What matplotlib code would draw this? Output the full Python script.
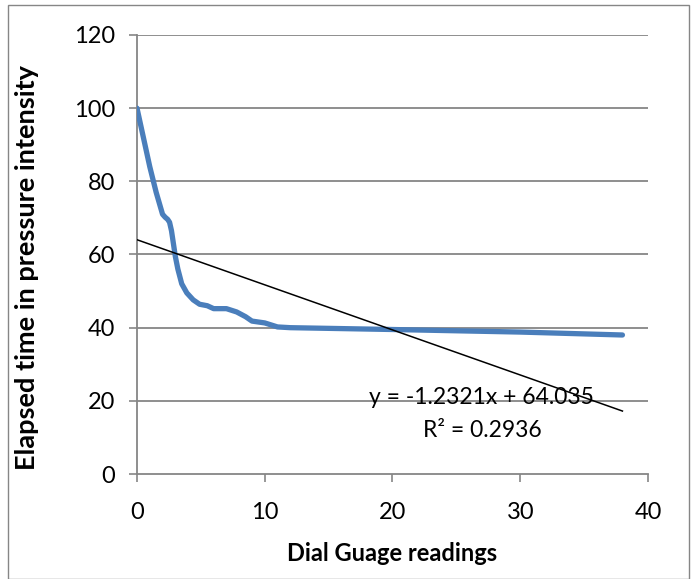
import numpy as np
from matplotlib import pyplot as plt
from matplotlib.patches import Rectangle

plt.rcParams['font.family'] = ['Lato', 'DejaVu Sans']

# values
dial = [0, 0.5, 1, 1.5, 2, 2.2, 2.4, 2.55, 2.7, 2.85, 3, 3.2, 3.5, 3.9, 4.4, 4.9, 5.5, 6, 7, 7.8, 8.5, 9, 10, 11, 12, 20, 30, 38]
elapsed = [100, 92, 84, 77, 71, 70.2, 69.6, 68.8, 66.5, 63, 59.5, 56, 52, 49.5, 47.6, 46.4, 46, 45.2, 45.2, 44.3, 43, 41.8, 41.3, 40.2, 40, 39.5, 38.8, 38]

slope = -1.2321
intercept = 64.035
r2 = 0.2936
x_ticks = [0, 10, 20, 30, 40]
y_ticks = [0, 20, 40, 60, 80, 100, 120]

fig = plt.figure(figsize=(6.94, 5.79), dpi=100)
ax = fig.add_axes([0.1974, 0.1813, 0.7363, 0.7583])

for t in y_ticks[1:]:
    ax.axhline(t, color='#868686', linewidth=1.3, zorder=1)

ax.plot(dial, elapsed, color='#4A7EBB', linewidth=3.8, solid_capstyle='round',
        solid_joinstyle='round', zorder=3)

fit_x = np.array([0, 38])
ax.plot(fit_x, slope * fit_x + intercept, color='black', linewidth=1.1, zorder=4)

ax.text(27, 20.8, 'y = -1.2321x + 64.035', ha='center', va='center', fontsize=16.5, zorder=5)
ax.text(27, 12.0, 'R² = 0.2936', ha='center', va='center', fontsize=16.5, zorder=5)

ax.set_xlim(0, 40)
ax.set_ylim(0, 120)
ax.set_xticks(x_ticks)
ax.set_yticks(y_ticks)
ax.tick_params(axis='both', direction='out', length=6, width=1.2, color='#868686',
               labelsize=17)
ax.tick_params(axis='x', pad=14)
ax.tick_params(axis='y', pad=10)
for s in ['top', 'right']:
    ax.spines[s].set_visible(False)
for s in ['left', 'bottom']:
    ax.spines[s].set_color('#868686')
    ax.spines[s].set_linewidth(1.3)

ax.set_xlabel('Dial Guage readings', fontsize=17, fontweight='bold', labelpad=14)
ax.set_ylabel('Elapsed time in pressure intensity', fontsize=19.5, fontweight='bold')
ax.yaxis.set_label_coords(-0.192, 0.47)

fig.patches.append(Rectangle((8 / 694, 0), 681 / 694, 574 / 579, transform=fig.transFigure,
                             fill=False, edgecolor='#868686', linewidth=1))

fig.savefig('out.png', dpi=100)
